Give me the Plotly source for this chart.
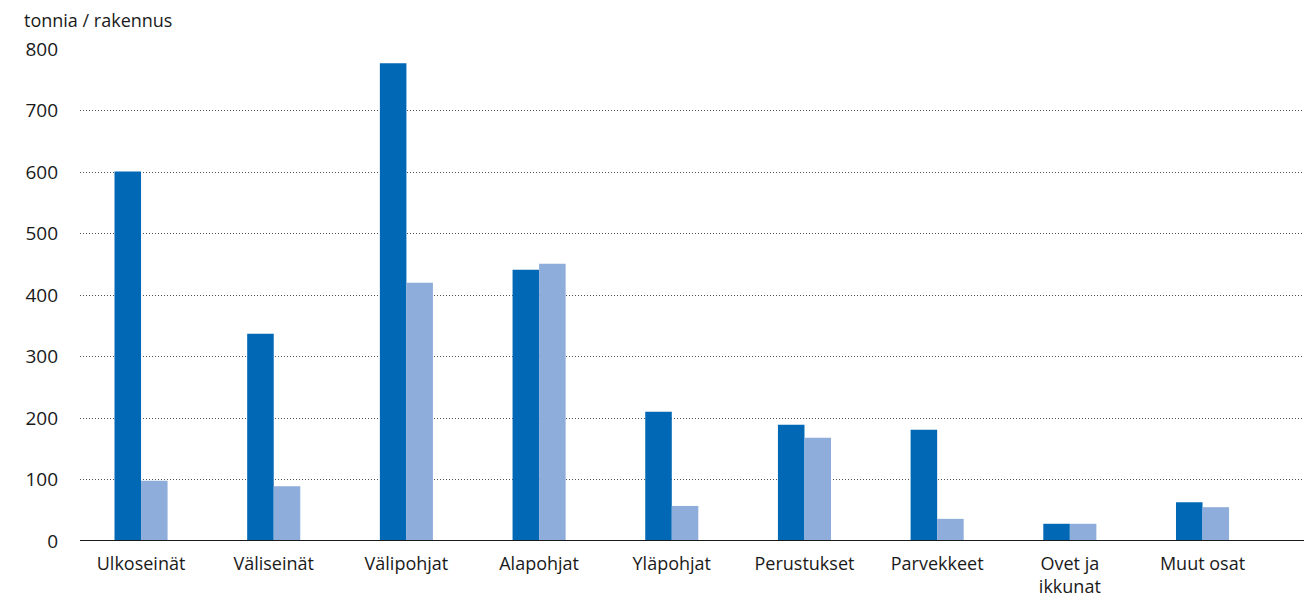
import plotly.graph_objects as go

categories = ["Ulkoseinät", "Väliseinät", "Välipohjat", "Alapohjat", "Yläpohjat",
              "Perustukset", "Parvekkeet", "Ovet ja<br>ikkunat", "Muut osat"]
series_a = [601, 337, 777, 441, 210, 189, 181, 28, 63]
series_b = [98, 89, 420, 451, 57, 168, 36, 28, 55]
y_ticks = [0, 100, 200, 300, 400, 500, 600, 700, 800]

font = "Open Sans"
fig = go.Figure()
fig.add_bar(x=list(range(len(categories))), y=series_a, marker_color="#0068b4",
            marker_line_width=0, name="A")
fig.add_bar(x=list(range(len(categories))), y=series_b, marker_color="#8faddb",
            marker_line_width=0, name="B")

fig.update_layout(
    width=1304, height=592, barmode="group", bargap=0.6, bargroupgap=0,
    showlegend=False, plot_bgcolor="white", paper_bgcolor="white",
    margin=dict(l=72, r=2, t=41, b=59),
    font=dict(family=font, size=18, color="#1a1a1a"),
    xaxis=dict(tickmode="array", tickvals=list(range(len(categories))), ticktext=categories,
               range=[-0.46, 8.81], showgrid=False, showline=False, zeroline=False,
               ticks="", ticklabelstandoff=10, tickfont=dict(size=18)),
    yaxis=dict(range=[0, 800], tickvals=y_ticks, showgrid=True, gridcolor="#555555",
               griddash="1px,2px", gridwidth=1, zeroline=False, showline=False, ticks="",
               ticklabelstandoff=21, tickfont=dict(size=19)),
    annotations=[dict(text="tonnia / rakennus", x=0, xref="paper", xanchor="left", xshift=-58,
                      y=1, yref="paper", yanchor="bottom", yshift=15, showarrow=False,
                      font=dict(size=18))],
    shapes=[dict(type="line", xref="paper", x0=0, x1=1, yref="y", y0=0, y1=0,
                 line=dict(color="#1a1a1a", width=2), layer="above")],
)
fig.write_html("out.html")
